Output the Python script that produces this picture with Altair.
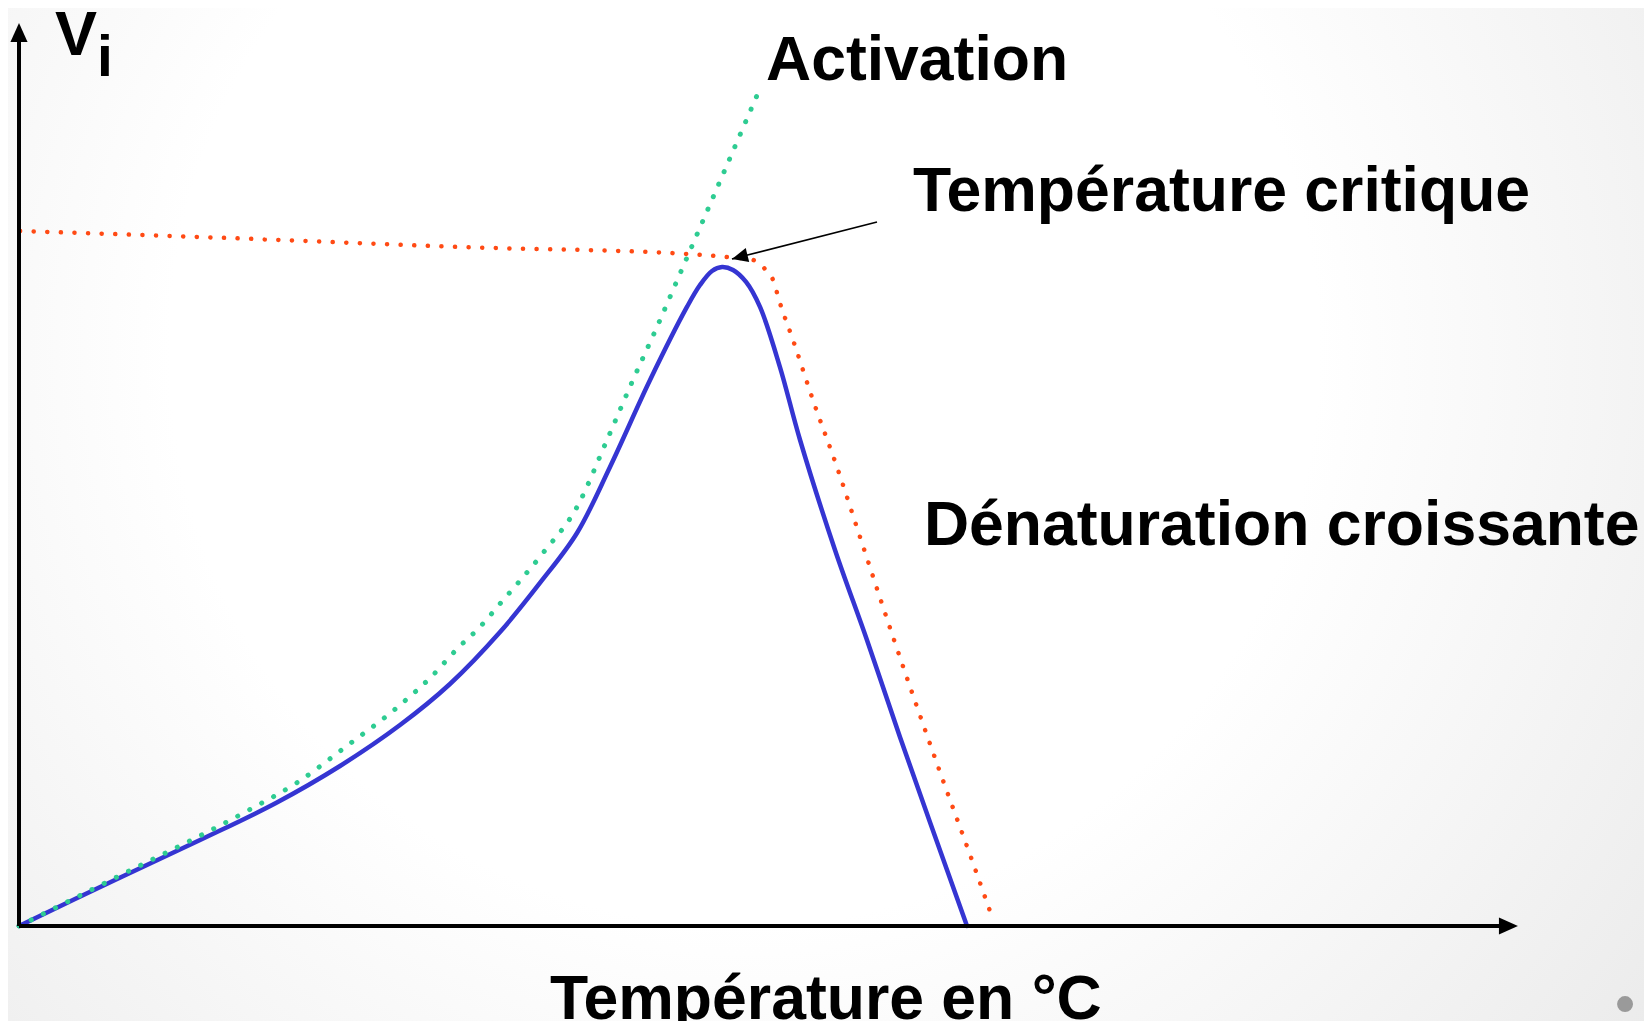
import altair as alt
import pandas as pd

# ---- data (x = temperature units 0-100, y = Vi units 0-100) ----
blue_t = [0, 6.4, 12.07, 17.13, 21.4, 25.4, 28.73, 32.07, 34.73, 37.2, 39.4, 42.07,
          44.53, 45.4, 46.2, 46.87, 47.6, 48.47, 49.4, 50.73, 52.07, 54.4, 56.53, 58.73, 63.2]
blue_v = [0, 5.1, 9.53, 13.64, 17.74, 22.28, 26.83, 32.59, 38.03, 43.57, 50.89, 60.53,
          68.63, 71.06, 72.62, 73.06, 72.73, 71.4, 68.63, 61.97, 53.88, 41.69, 31.71, 20.95, 0]

green_t = [0, 6.4, 15.33, 18.6, 21.67, 25.4, 27.47, 29.33, 30.73, 32.0, 34.93, 37.2, 39.2,
           40.93, 42.53, 44.0, 45.53, 49.27]
green_v = [0, 5.32, 12.86, 15.96, 19.73, 24.5, 27.61, 30.93, 33.15, 35.59, 41.35, 46.45, 53.88,
           60.53, 66.41, 72.06, 77.94, 92.35]

red_t = [0.07, 14.0, 29.33, 44.6, 47.2, 48.93, 49.73, 50.27, 50.73, 51.6, 52.93, 54.53, 56.2,
         58.27, 61.4, 63.6, 64.87]
red_v = [77.05, 76.27, 75.28, 74.5, 74.17, 73.84, 72.84, 71.62, 69.07, 64.97, 58.31, 50.89,
         42.46, 32.04, 17.07, 6.98, 1.0]

# annotation arrow (start -> tip) and axis extents
arrow_t = [57.2, 47.53]
arrow_v = [78.05, 73.95]
yaxis_t = [0, 0]
yaxis_v = [0, 99.3]
xaxis_t = [0, 99.1]
xaxis_v = [0, 0]

head_t = [0, 99.93, 47.53]
head_v = [100.1, 0, 73.95]
head_angle = [0, 90, 256]
head_size = [361, 361, 256]

labels = ["V", "i", "Activation", "Température critique", "Dénaturation croissante",
          "Température en °C"]
label_t = [2.4, 5.2, 49.8, 59.6, 60.33, 35.4]
label_v = [96.56, 94.24, 93.79, 79.27, 42.24, -10.31]
label_fs = [63, 57, 62.5, 62.5, 62.5, 62.5]

xs = alt.Scale(domain=[0, 100], nice=False, zero=False)
ys = alt.Scale(domain=[0, 100], nice=False, zero=False)


def line(t, v, **kw):
    df = pd.DataFrame({"t": t, "v": v, "o": list(range(len(t)))})
    return alt.Chart(df).mark_line(**kw).encode(
        x=alt.X("t:Q", scale=xs, axis=None),
        y=alt.Y("v:Q", scale=ys, axis=None),
        order="o:Q",
    )


bg = alt.Chart(pd.DataFrame({"a": [0]})).mark_rect(
    fill={
        "gradient": "radial",
        "x1": 0.45, "y1": 0.4, "r1": 0,
        "x2": 0.45, "y2": 0.4, "r2": 0.78,
        "stops": [
            {"offset": 0, "color": "#ffffff"},
            {"offset": 0.45, "color": "#ffffff"},
            {"offset": 1, "color": "#e6e6e6"},
        ],
    }
).encode(x=alt.value(-11), x2=alt.value(1625), y=alt.value(-16), y2=alt.value(997))

blue = line(blue_t, blue_v, color="#3535d2", strokeWidth=4.5, interpolate="catmull-rom",
            strokeCap="round")
red = line(red_t, red_v, color="#ff4a14", strokeWidth=4.5, interpolate="monotone",
           strokeCap="round", strokeDash=[0.1, 13.5])
green = line(green_t, green_v, color="#2ecc92", strokeWidth=5, interpolate="monotone",
             strokeCap="round", strokeDash=[0.1, 13.5])
yaxis = line(yaxis_t, yaxis_v, color="#000000", strokeWidth=4)
xaxis = line(xaxis_t, xaxis_v, color="#000000", strokeWidth=4)
arrow = line(arrow_t, arrow_v, color="#000000", strokeWidth=1.6)

heads = alt.Chart(pd.DataFrame({"t": head_t, "v": head_v, "a": head_angle, "s": head_size})).mark_point(
    shape="M0,0L0.9,2L-0.9,2Z", filled=True, color="#000000", opacity=1, strokeWidth=0
).encode(
    x=alt.X("t:Q", scale=xs, axis=None),
    y=alt.Y("v:Q", scale=ys, axis=None),
    angle=alt.Angle("a:Q", scale=None),
    size=alt.Size("s:Q", scale=None, legend=None),
)

texts = alt.Chart(pd.DataFrame({"t": label_t, "v": label_v, "l": labels, "fs": label_fs})).mark_text(
    align="left", baseline="alphabetic", font="Liberation Sans", fontWeight="bold", color="#000000"
).encode(
    x=alt.X("t:Q", scale=xs, axis=None),
    y=alt.Y("v:Q", scale=ys, axis=None),
    text="l:N",
    size=alt.Size("fs:Q", scale=None, legend=None),
)

navdot = alt.Chart(pd.DataFrame({"t": [107.07], "v": [-8.65]})).mark_circle(
    color="#9a9a9a", opacity=1, size=254
).encode(
    x=alt.X("t:Q", scale=xs, axis=None),
    y=alt.Y("v:Q", scale=ys, axis=None),
)

chart = alt.layer(bg, blue, red, green, yaxis, xaxis, arrow, heads, texts, navdot).properties(
    width=1500,
    height=902,
    padding={"left": 11, "top": 16, "right": 125, "bottom": 95},
    autosize=alt.AutoSizeParams(type="none"),
    background="#ffffff",
).configure_view(stroke=None)

chart.save("out.html", embed_options={"renderer": "svg", "actions": False})
